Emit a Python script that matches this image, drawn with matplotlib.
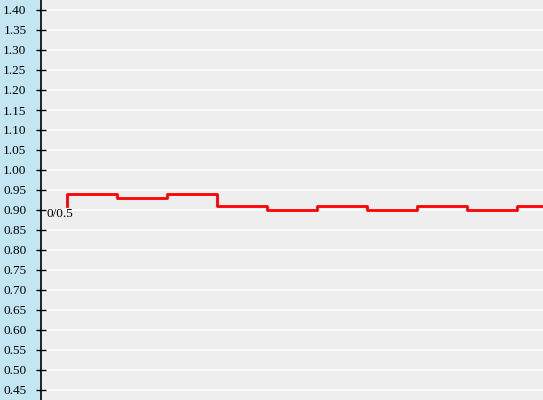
import numpy as np
import matplotlib.pyplot as plt

# step values (first point is the start at 0.91, then one step per period)
steps_x = [0, 0, 1, 2, 3, 4, 5, 6, 7, 8, 9, 10]
steps_y = [0.91, 0.94, 0.93, 0.94, 0.91, 0.90, 0.91, 0.90, 0.91, 0.90, 0.91, 0.91]
y_ticks = [round(0.45 + 0.05 * i, 2) for i in range(20)]
start_label = "0/0.5"

fig = plt.figure(figsize=(5.43, 4.0), dpi=100, facecolor='#c3e6f2')
ax = fig.add_axes([41 / 543, 0, 1 - 41 / 543, 1])
ax.set_facecolor('#eeeeee')

ax.set_ylim(0.425, 1.425)
ax.set_xlim(-0.52, 9.52)
ax.set_yticks(y_ticks)
ax.set_yticklabels(['%.2f' % v for v in y_ticks], family='Liberation Serif', fontsize=9.5)
ax.tick_params(axis='y', direction='inout', length=7, width=1, pad=7, colors='black')
ax.set_xticks([])
ax.grid(axis='y', color='white', linewidth=1.1)
ax.set_axisbelow(True)

for s in ['top', 'right', 'bottom']:
    ax.spines[s].set_visible(False)
ax.spines['left'].set_linewidth(1.2)

ax.plot(steps_x, steps_y, drawstyle='steps-post', color='#ff0000', linewidth=2.0)
ax.text(-0.14, 0.889, start_label, ha='center', va='center',
        family='Liberation Serif', fontsize=9.5)

fig.savefig('out.png', dpi=100, facecolor=fig.get_facecolor())
